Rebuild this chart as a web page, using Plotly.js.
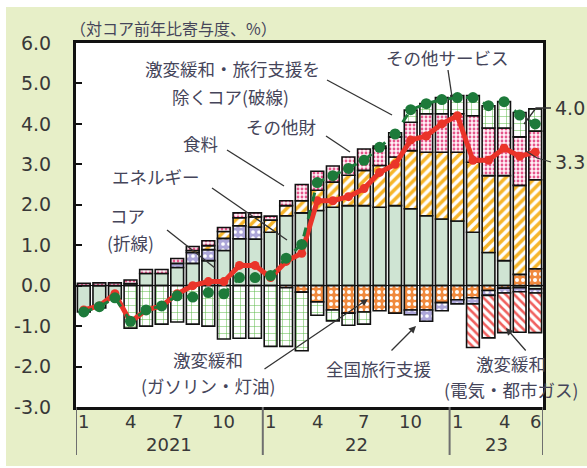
<!DOCTYPE html>
<html>
<head>
<meta charset="utf-8">
<script src="https://cdn.plot.ly/plotly-3.0.1.min.js"></script>
<style>
  html, body { margin: 0; padding: 0; background: #ffffff; }
  #chart { position: absolute; left: 6px; top: 7px; width: 581px; height: 459px; }
</style>
</head>
<body>
<div id="chart"></div>
<script>
// Monthly periods, Jan 2021 - Jun 2023
const months = [
  '2021/1','2021/2','2021/3','2021/4','2021/5','2021/6','2021/7','2021/8','2021/9','2021/10','2021/11','2021/12',
  '2022/1','2022/2','2022/3','2022/4','2022/5','2022/6','2022/7','2022/8','2022/9','2022/10','2022/11','2022/12',
  '2023/1','2023/2','2023/3','2023/4','2023/5','2023/6'
];

// Contributions to core CPI y/y (% pts)
const energy = [-0.65,-0.55,-0.33,0.05,0.30,0.30,0.45,0.55,0.62,0.87,1.16,1.15,
                1.32,1.73,1.80,1.86,1.94,1.98,1.98,1.94,1.98,1.90,1.73,1.65,
                1.60,1.32,0.82,0.62,-0.05,-0.08];
const fuelSubsidy = [null,null,null,null,null,null,null,null,null,null,null,null,
                     null,-0.05,-0.16,-0.40,-0.60,-0.68,-0.65,-0.62,-0.68,-0.60,-0.60,-0.42,
                     -0.35,-0.30,-0.12,-0.06,0.28,0.42];
const travel = [null,null,null,null,null,null,0.10,0.27,0.27,0.30,0.32,0.30,
                null,null,null,null,null,null,null,null,null,-0.12,-0.28,-0.20,
                -0.10,-0.15,-0.12,-0.12,-0.10,-0.10];
const food = [null,null,null,null,null,null,null,0.05,0.10,0.17,0.20,0.25,
              0.30,0.25,0.30,0.50,0.62,0.75,0.87,1.03,1.20,1.44,1.57,1.65,
              1.70,1.73,1.90,2.10,2.20,2.20];
const otherGoods = [0.06,0.07,0.07,0.09,0.10,0.10,0.12,0.10,0.12,0.10,0.12,0.10,
                    0.10,0.12,0.40,0.47,0.40,0.45,0.53,0.43,0.50,0.70,0.95,0.95,
                    0.95,1.15,1.18,1.18,1.20,1.20];
const otherServices = [null,null,null,-1.05,-1.00,-0.95,-0.90,-0.95,-1.00,-1.32,-1.30,-1.30,
                       -1.50,-1.45,-1.45,-0.33,-0.27,-0.30,-0.30,0.05,0.10,0.30,0.25,0.40,
                       0.45,0.50,0.55,0.65,0.60,0.55];
const powerSubsidy = [null,null,null,null,null,null,null,null,null,null,null,null,
                      null,null,null,null,null,null,null,null,null,null,null,null,
                      null,-1.08,-1.05,-0.98,-1.00,-0.98];

// Core CPI y/y (%) and core excluding subsidies / travel support
const core = [-0.6,-0.5,-0.2,-0.9,-0.6,-0.5,-0.2,0.0,0.1,0.1,0.5,0.5,
              0.2,0.6,0.8,2.1,2.1,2.2,2.4,2.8,3.0,3.6,3.7,4.0,
              4.2,3.1,3.1,3.4,3.2,3.3];
const coreExSupport = [-0.65,-0.52,-0.30,-0.88,-0.60,-0.50,-0.25,-0.28,-0.17,-0.20,0.20,0.20,
                       0.25,0.68,1.02,2.55,2.72,2.90,3.10,3.42,3.75,4.35,4.50,4.60,
                       4.65,4.65,4.45,4.55,4.22,4.00];

// Axis labelling
const monthTicks = ['2021/1','2021/4','2021/7','2021/10','2022/1','2022/4','2022/7','2022/10','2023/1','2023/4','2023/6'];
const yearStarts = ['2021/1','2022/1','2023/1'];
const yearLabels = ['2021','22','23'];
const yTicks = [6,5,4,3,2,1,0,-1,-2,-3];

const x = months.map((_, i) => i);
const xEnd = months.length + 0.5;

// Plot-area geometry on the page, used to place callouts
const G = { left: 76, right: 543, top: 43, bottom: 407 };
const px = v => (v - G.left) / (G.right - G.left);
const py = v => (G.bottom - v) / (G.bottom - G.top);

const CJK = '"Noto Sans CJK JP", "Noto Sans", sans-serif';
const NUM = '"DejaVu Sans", sans-serif';
const TXT = '#45455a';
const NUMC = '#383838';
const INK = '#333333';

const outline = { color: '#111111', width: 1.6 };
function barTrace(name, y, pattern) {
  return {
    type: 'bar', name, x, y, width: 0.82,
    marker: { color: pattern.bgcolor, line: outline, pattern }
  };
}

const traces = [
  barTrace('エネルギー', energy, { shape: '', bgcolor: '#cfe4d3', fgcolor: '#cfe4d3' }),
  barTrace('激変緩和（ガソリン・灯油）', fuelSubsidy, { shape: '.', bgcolor: '#f08a3e', fgcolor: '#ffffff', size: 6, solidity: 0.35 }),
  barTrace('全国旅行支援', travel, { shape: '.', bgcolor: '#aca6d8', fgcolor: '#ffffff', size: 6, solidity: 0.3 }),
  barTrace('食料', food, { shape: '/', bgcolor: '#ffffff', fgcolor: '#f6b52a', size: 7, solidity: 0.5 }),
  barTrace('その他財', otherGoods, { shape: '.', bgcolor: '#fff2f7', fgcolor: '#e6558b', size: 4, solidity: 0.38 }),
  barTrace('その他サービス', otherServices, { shape: '+', bgcolor: '#ffffff', fgcolor: '#5cb94a', size: 7, solidity: 0.14 }),
  barTrace('激変緩和（電気・都市ガス）', powerSubsidy, { shape: '\\', bgcolor: '#ffffff', fgcolor: '#f0615f', size: 6, solidity: 0.42 }),
  {
    type: 'scatter', mode: 'lines+markers', name: 'コア', x, y: core,
    line: { color: '#ea3429', width: 5 },
    marker: { color: '#ea3429', size: 9 }
  },
  {
    type: 'scatter', mode: 'lines+markers', name: '激変緩和・旅行支援を除くコア', x, y: coreExSupport,
    line: { color: '#1d7a3a', width: 3, dash: 'dash' },
    marker: { color: '#1d7a3a', size: 11 }
  }
];

function label(text, cx, cy, extra) {
  return Object.assign({
    text, xref: 'paper', yref: 'paper', x: px(cx), y: py(cy),
    xanchor: 'center', yanchor: 'middle', showarrow: false,
    font: { family: CJK, size: 17.5, color: TXT }
  }, extra || {});
}
function arrow(tailX, tailY, tipX, tipY) {
  return {
    text: '', xref: 'paper', yref: 'paper', x: px(tipX), y: py(tipY),
    ax: tailX - tipX, ay: tailY - tipY, showarrow: true,
    arrowhead: 2, arrowsize: 1.1, arrowwidth: 1.3, arrowcolor: INK
  };
}
function leader(x0, y0, x1, y1) {
  return { type: 'line', xref: 'paper', yref: 'paper',
           x0: px(x0), y0: py(y0), x1: px(x1), y1: py(y1),
           line: { color: INK, width: 1.3 } };
}
function bent(points) {
  const d = points.map((p, i) => (i ? 'L' : 'M') + px(p[0]) + ',' + py(p[1])).join(' ');
  return { type: 'path', xref: 'paper', yref: 'paper', path: d, line: { color: INK, width: 1.3 } };
}

const last = months.length - 1;
const annotations = [
  label('（対コア前年比寄与度、%）', 68, 28, { xanchor: 'left', font: { family: CJK, size: 16, color: TXT } }),
  label('激変緩和・旅行支援を', 232, 69),
  label('除くコア(破線)', 230, 96),
  label('その他サービス', 447, 58),
  label('その他財', 281, 127),
  label('食料', 200, 143),
  label('エネルギー', 156, 176),
  label('コア', 127, 215),
  label('(折線)', 130, 242),
  label('激変緩和', 208, 359),
  label('(ガソリン・灯油)', 208, 385),
  label('全国旅行支援', 378, 368),
  label('激変緩和', 511, 363),
  label('(電気・都市ガス)', 511, 389),
  label(coreExSupport[last].toFixed(1), 553, 108, { xanchor: 'left', font: { family: NUM, size: 19, color: NUMC } }),
  label(core[last].toFixed(1), 553, 162, { xanchor: 'left', font: { family: NUM, size: 19, color: NUMC } }),
  arrow(263, 370, 368, 299),
  arrow(390, 352, 416, 326),
  arrow(527, 352, 506, 328)
];
// Month numbers under the bars
monthTicks.forEach(m => {
  annotations.push({
    text: m.split('/')[1], xref: 'x', yref: 'paper', x: months.indexOf(m), y: py(421),
    xanchor: 'center', yanchor: 'middle', showarrow: false,
    font: { family: NUM, size: 18, color: NUMC }
  });
});
// Year captions centred between the year separators
const sepIdx = yearStarts.map(m => months.indexOf(m) - 0.5).concat([xEnd - 1]);
yearLabels.forEach((t, i) => {
  annotations.push({
    text: t, xref: 'x', yref: 'paper', x: (sepIdx[i] + sepIdx[i + 1]) / 2, y: py(444),
    xanchor: 'center', yanchor: 'middle', showarrow: false,
    font: { family: NUM, size: 18, color: NUMC }
  });
});

const shapes = [
  leader(327, 80, 392, 115),
  leader(448, 70, 452, 97),
  leader(227, 150, 284, 186),
  leader(326, 136, 350, 152),
  leader(212, 188, 287, 240),
  leader(167, 230, 215, 268),
  bent([[551, 108], [536, 108], [524, 124]]),
  bent([[551, 162], [537, 158], [526, 151]])
];
sepIdx.forEach(v => {
  shapes.push({ type: 'line', xref: 'x', yref: 'paper', x0: v, x1: v, y0: 0, y1: py(455),
                line: { color: '#6f6f6f', width: 2 } });
});

const layout = {
  width: 581, height: 459,
  margin: { l: 70, r: 44, t: 36, b: 59 },
  paper_bgcolor: '#e7efc8',
  plot_bgcolor: '#ffffff',
  barmode: 'relative',
  showlegend: false,
  xaxis: {
    range: [-0.5, xEnd - 1],
    showticklabels: false,
    ticks: '', showgrid: false, zeroline: false,
    showline: true, mirror: true, linecolor: '#111111', linewidth: 3
  },
  yaxis: {
    range: [-3, 6],
    tickvals: yTicks, ticktext: yTicks.map(v => v.toFixed(1)),
    ticks: 'inside', ticklen: 6, tickwidth: 2, tickcolor: '#111111',
    showgrid: false, zeroline: true, zerolinecolor: '#111111', zerolinewidth: 1.5,
    showline: true, mirror: true, linecolor: '#111111', linewidth: 3,
    ticklabelstandoff: 18,
    tickfont: { family: NUM, size: 19, color: NUMC }
  },
  annotations, shapes
};

Plotly.newPlot('chart', traces, layout, { staticPlot: true, displayModeBar: false });
</script>
</body>
</html>
